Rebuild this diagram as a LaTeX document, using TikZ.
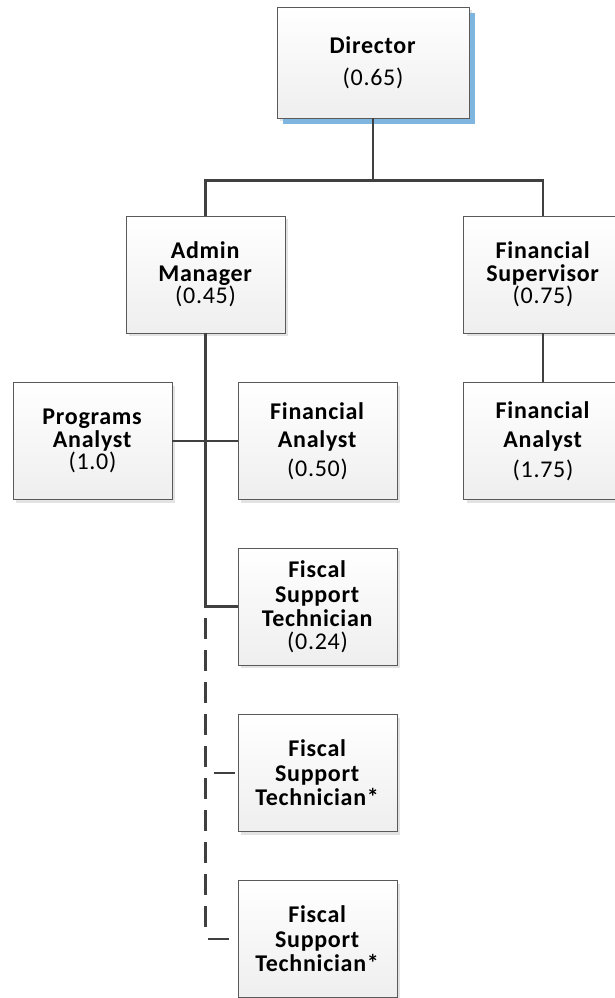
\documentclass[tikz,border=0pt]{standalone}
\usepackage{fontspec}
\setmainfont{Carlito}[LetterSpace=3]
\usepackage{tikz}
\usetikzlibrary{positioning,calc,shadows}
\definecolor{linegray}{HTML}{404040}
\definecolor{boxline}{HTML}{5A5A5A}
\definecolor{shadowblue}{HTML}{7FB6E0}

\begin{document}
\begin{tikzpicture}[x=1pt,y=-1pt,
    box/.style={draw=boxline, line width=0.9pt, top color=white, bottom color=gray!13,
        minimum width=159pt, minimum height=117pt, align=center, inner sep=0pt,
        font=\fontsize{24}{22.5}\selectfont,
        drop shadow={shadow xshift=3pt, shadow yshift=-3pt, fill=gray!22, opacity=1}},
    topbox/.style={box, minimum width=192pt, minimum height=111pt,
        drop shadow={shadow xshift=6pt, shadow yshift=-6pt, fill=shadowblue, opacity=1}},
    link/.style={draw=linegray, line width=2.5pt},
    dashlink/.style={link, dash pattern=on 21pt off 11pt, dash phase=21pt}]
    \useasboundingbox (0,0) rectangle (614,998);

    % Boxes
    \node[topbox] (dir) at (373,62.5) {\textbf{Director}\\[10pt](0.65)};
    \node[box] (admin) at (205.5,274.5) {\textbf{Admin}\\\textbf{Manager}\\(0.45)};
    \node[box] (finsup) at (543,274.5) {\textbf{Financial}\\\textbf{Supervisor}\\(0.75)};
    \node[box] (progan) at (92.5,441) {\textbf{Programs}\\\textbf{Analyst}\\(1.0)};
    \node[box] (finan) at (317.5,441) {\textbf{Financial}\\[6pt]\textbf{Analyst}\\[6pt](0.50)};
    \node[box] (finantwo) at (543,441) {\textbf{Financial}\\[7pt]\textbf{Analyst}\\[7pt](1.75)};
    \node[box] (fiscal) at (317.5,606.5) {\textbf{Fiscal}\\[2pt]\textbf{Support}\\[2pt]\textbf{Technician}\\(0.24)};
    \node[box] (fiscaltwo) at (317.5,773) {\textbf{Fiscal}\\[2pt]\textbf{Support}\\[2pt]\textbf{Technician*}};
    \node[box] (fiscalthree) at (317.5,939) {\textbf{Fiscal}\\[2pt]\textbf{Support}\\[2pt]\textbf{Technician*}};

    % Lines
    \coordinate (split) at ($(dir.south)+(0,62)$);
    \draw[link] (dir.south) -- (split) -| (admin.north);
    \draw[link] (split) -| (finsup.north);
    \draw[link] (finsup.south) -- (finantwo.north);
    \draw[link] (progan.east) -- (finan.west);
    \draw[link] (admin.south) -- (admin.south |- fiscal.west) -- (fiscal.west);

    % Vacant positions
    \draw[dashlink, shorten >=4pt] (admin.south |- fiscal.west) -- (admin.south |- fiscalthree.west);
    \draw[dashlink, dash phase=24pt] (admin.south |- fiscaltwo.west) -- (fiscaltwo.west);
    \draw[dashlink, dash phase=30pt] (admin.south |- fiscalthree.west) -- (fiscalthree.west);

\end{tikzpicture}
\end{document}
